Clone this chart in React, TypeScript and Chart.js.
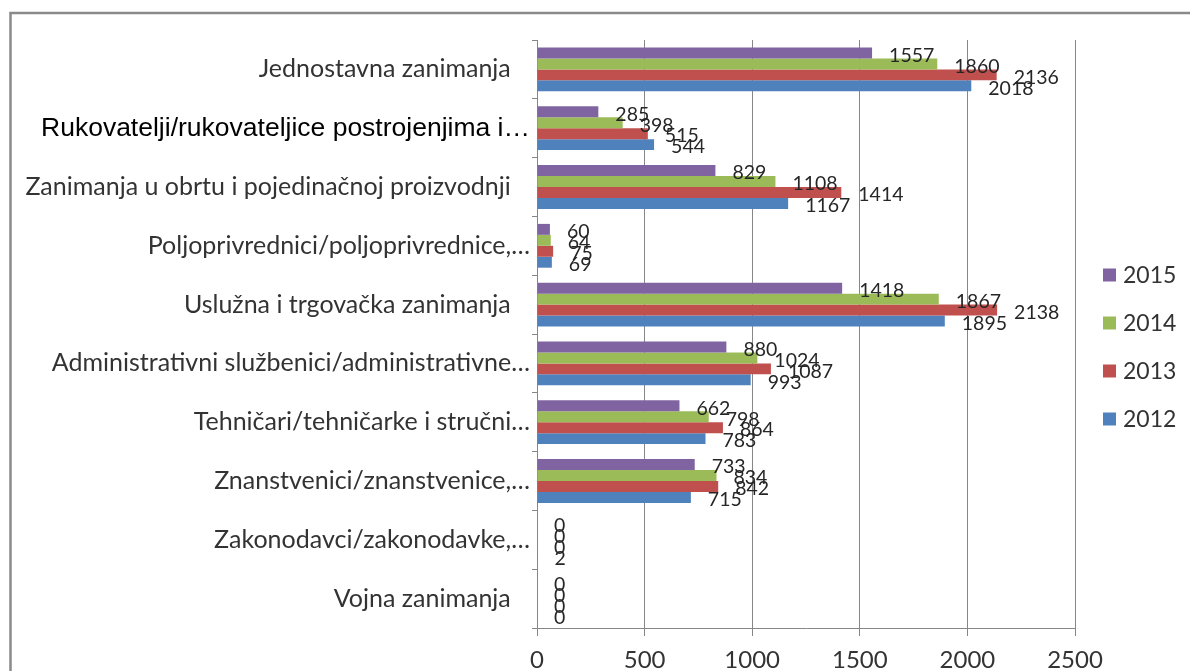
import React, { useEffect, useRef } from "react";
import { Chart, registerables } from "chart.js";

Chart.register(...registerables);

const categories = [
  "Jednostavna zanimanja",
  "Rukovatelji/rukovateljice postrojenjima i…",
  "Zanimanja u obrtu i pojedinačnoj proizvodnji",
  "Poljoprivrednici/poljoprivrednice,…",
  "Uslužna i trgovačka zanimanja",
  "Administrativni službenici/administrativne…",
  "Tehničari/tehničarke i stručni…",
  "Znanstvenici/znanstvenice,…",
  "Zakonodavci/zakonodavke,…",
  "Vojna zanimanja",
];

const seriesLabels = ["2015", "2014", "2013", "2012"];
const values2015 = [1557, 285, 829, 60, 1418, 880, 662, 733, 0, 0];
const values2014 = [1860, 398, 1108, 64, 1867, 1024, 798, 834, 0, 0];
const values2013 = [2136, 515, 1414, 75, 2138, 1087, 864, 842, 0, 0];
const values2012 = [2018, 544, 1167, 69, 1895, 993, 783, 715, 2, 0];
const seriesColors = ["#8064A2", "#9BBB59", "#C0504D", "#4F81BD"];

const xMin = 0;
const xMax = 2500;
const xStep = 500;

const TEXT = "#333333";
const GRID = "#878787";

const framePlugin = {
  id: "frame",
  beforeDraw(chart: any) {
    const ctx = chart.ctx;
    ctx.save();
    ctx.strokeStyle = "#8a8a8a";
    ctx.lineWidth = 2.5;
    ctx.beginPath();
    ctx.moveTo(10.5, chart.height + 5);
    ctx.lineTo(10.5, 13);
    ctx.lineTo(chart.width + 5, 13);
    ctx.stroke();
    ctx.restore();
  },
};

const valueLabelPlugin = {
  id: "valueLabels",
  afterDatasetsDraw(chart: any) {
    const ctx = chart.ctx;
    ctx.save();
    ctx.font = "19.5px Lato";
    ctx.fillStyle = "#262626";
    ctx.textAlign = "left";
    ctx.textBaseline = "middle";
    chart.data.datasets.forEach((ds: any, i: number) => {
      const meta = chart.getDatasetMeta(i);
      meta.data.forEach((el: any, j: number) => {
        ctx.fillText(String(ds.data[j]), el.x + 17, el.y + 2.5);
      });
    });
    ctx.restore();
  },
};

const legendPlugin = {
  id: "sideLegend",
  afterDraw(chart: any) {
    const ctx = chart.ctx;
    ctx.save();
    ctx.font = "23px Lato";
    ctx.textAlign = "left";
    ctx.textBaseline = "middle";
    chart.data.datasets.forEach((ds: any, i: number) => {
      const cy = 275 + i * 48;
      ctx.fillStyle = ds.backgroundColor;
      ctx.fillRect(1103, cy - 6.5, 13, 13);
      ctx.fillStyle = TEXT;
      ctx.fillText(ds.label, 1123, cy + 1);
    });
    ctx.restore();
  },
};

export default function App() {
  const canvasRef = useRef<HTMLCanvasElement | null>(null);

  useEffect(() => {
    if (!canvasRef.current) return;
    const seriesValues = [values2015, values2014, values2013, values2012];
    const chart = new Chart(canvasRef.current, {
      type: "bar",
      data: {
        labels: categories,
        datasets: seriesLabels.map((label, i) => ({
          label,
          data: seriesValues[i],
          backgroundColor: seriesColors[i],
          borderWidth: 0,
          barPercentage: 1,
          categoryPercentage: 0.745,
        })),
      },
      options: {
        indexAxis: "y",
        animation: false,
        responsive: true,
        maintainAspectRatio: false,
        layout: { padding: { top: 40, right: 115, bottom: 0, left: 0 } },
        plugins: {
          legend: { display: false },
          tooltip: { enabled: false },
          title: { display: false },
        },
        scales: {
          y: {
            type: "category",
            afterFit(scale: any) {
              scale.width = 537;
            },
            grid: {
              display: true,
              drawOnChartArea: false,
              offset: true,
              tickLength: 5,
              color: GRID,
            },
            border: { color: GRID, width: 1 },
            ticks: {
              padding: 2,
              autoSkip: false,
              callback(this: any, value: any) {
                const l = this.getLabelForValue(value);
                return l.endsWith("…") ? l : l + "   ";
              },
              font: (ctx: any) =>
                ctx.index === 1
                  ? { family: "Liberation Sans", size: 26.5 }
                  : { family: "Lato", size: 25 },
              color: (ctx: any) => (ctx.index === 1 ? "#000000" : TEXT),
            },
          },
          x: {
            min: xMin,
            max: xMax,
            afterFit(scale: any) {
              scale.height = 43;
            },
            grid: {
              color: GRID,
              tickLength: 8,
            },
            border: { color: GRID, width: 1 },
            ticks: {
              stepSize: xStep,
              padding: 10,
              font: { family: "Lato", size: 24 },
              color: TEXT,
              callback: (value: any) => String(value),
            },
          },
        },
      },
      plugins: [framePlugin, valueLabelPlugin, legendPlugin],
    } as any);
    return () => chart.destroy();
  }, []);

  return (
    <div
      style={{
        position: "fixed",
        left: 0,
        top: 0,
        width: 1190,
        height: 671,
        background: "#ffffff",
      }}
    >
      <canvas ref={canvasRef} />
    </div>
  );
}
